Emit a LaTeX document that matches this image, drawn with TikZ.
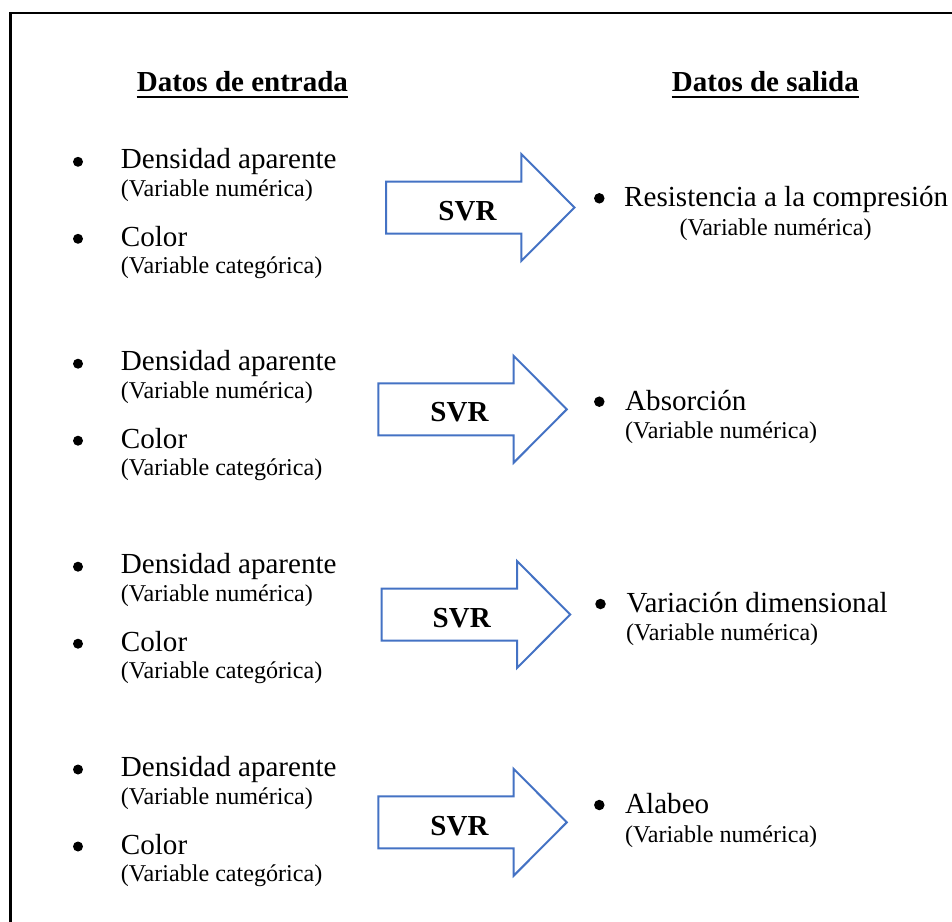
\documentclass[tikz,border=0pt]{standalone}
\usepackage{fontspec}
\setmainfont{Liberation Serif}
\definecolor{arrowblue}{HTML}{4472C4}
\begin{document}
\begin{tikzpicture}[x=1pt,y=-1pt,
  big/.style={inner sep=0pt,anchor=base west,font=\fontsize{29.1}{34}\selectfont},
  small/.style={inner sep=0pt,anchor=base west,font=\fontsize{24.1}{28}\selectfont},
  head/.style={inner sep=0pt,anchor=base west,font=\fontsize{29}{34}\selectfont\bfseries},
  svrtext/.style={inner sep=0pt,anchor=base,font=\fontsize{29}{34}\selectfont\bfseries},
  dot/.style={circle,fill=black,draw=none,inner sep=0pt,minimum size=10pt},
  blockarrow/.style={draw=arrowblue,line width=2pt,line join=miter,fill=white},
  frameline/.style={draw=black,line width=2.4pt}
]
\useasboundingbox (0,0) rectangle (952,921);
\clip (0,0) rectangle (952,921);
\fill[white] (0,0) rectangle (952,921);
% frame (right and bottom edges lie outside the picture)
\draw[frameline] (10.5,940) -- (10.5,12.8) -- (970,12.8);

% headings
\node[head] (hin) at (136.7,91.7) {Datos de entrada};
\node[head] (hout) at (671.7,91.7) {Datos de salida};
\draw[line width=2pt] ([yshift=-5pt]hin.base west) -- ([yshift=-5pt]hin.base east);
\draw[line width=2pt] ([yshift=-5pt]hout.base west) -- ([yshift=-5pt]hout.base east);

% left groups
\foreach \g/\b in {1/168.3,2/370.2,3/573.2,4/776} {
  \node[dot] (bd\g) at (78,\b-6.5) {};
  \node[big] (dens\g) at (120.7,\b) {Densidad aparente};
  \node[small] (vn\g) at (120.7,\b+28.5) {(Variable numérica)};
  \node[dot] (bc\g) at (78,\b+78-7.5) {};
  \node[big] (col\g) at (120.7,\b+78) {Color};
  \node[small] (vc\g) at (120.7,\b+105) {(Variable categórica)};
}

% arrows
\foreach \g/\l/\c in {1/386/207.5,2/378.3/409.3,3/381.7/614.5,4/378.3/822.3} {
  \draw[blockarrow] (\l,\c-26) -- (\l+135.3,\c-26) -- (\l+135.3,\c-53.5)
     -- (\l+188.5,\c) -- (\l+135.3,\c+53.5) -- (\l+135.3,\c+26)
     -- (\l,\c+26) -- cycle;
}
\node[svrtext] (svr1) at (467.5,220.7) {SVR};
\node[svrtext] (svr2) at (459.5,421.7) {SVR};
\node[svrtext] (svr3) at (461.7,627.3) {SVR};
\node[svrtext] (svr4) at (459.5,835) {SVR};

% right groups
\node[dot,minimum size=10.5pt] (ro1) at (599.3,198.3) {};
\node[big] (out1) at (624,206.7) {Resistencia a la compresión};
\node[small] (on1) at (679.3,235) {(Variable numérica)};

\node[dot,minimum size=10.5pt] (ro2) at (599.3,401.7) {};
\node[big] (out2) at (625,410) {Absorción};
\node[small] (on2) at (625,438.3) {(Variable numérica)};

\node[dot,minimum size=10.5pt] (ro3) at (600.5,604) {};
\node[big] (out3) at (626.5,612.7) {Variación dimensional};
\node[small] (on3) at (626,640) {(Variable numérica)};

\node[dot,minimum size=10.5pt] (ro4) at (599.3,805) {};
\node[big] (out4) at (625,813.3) {Alabeo};
\node[small] (on4) at (625,842.7) {(Variable numérica)};
\end{tikzpicture}
\end{document}
